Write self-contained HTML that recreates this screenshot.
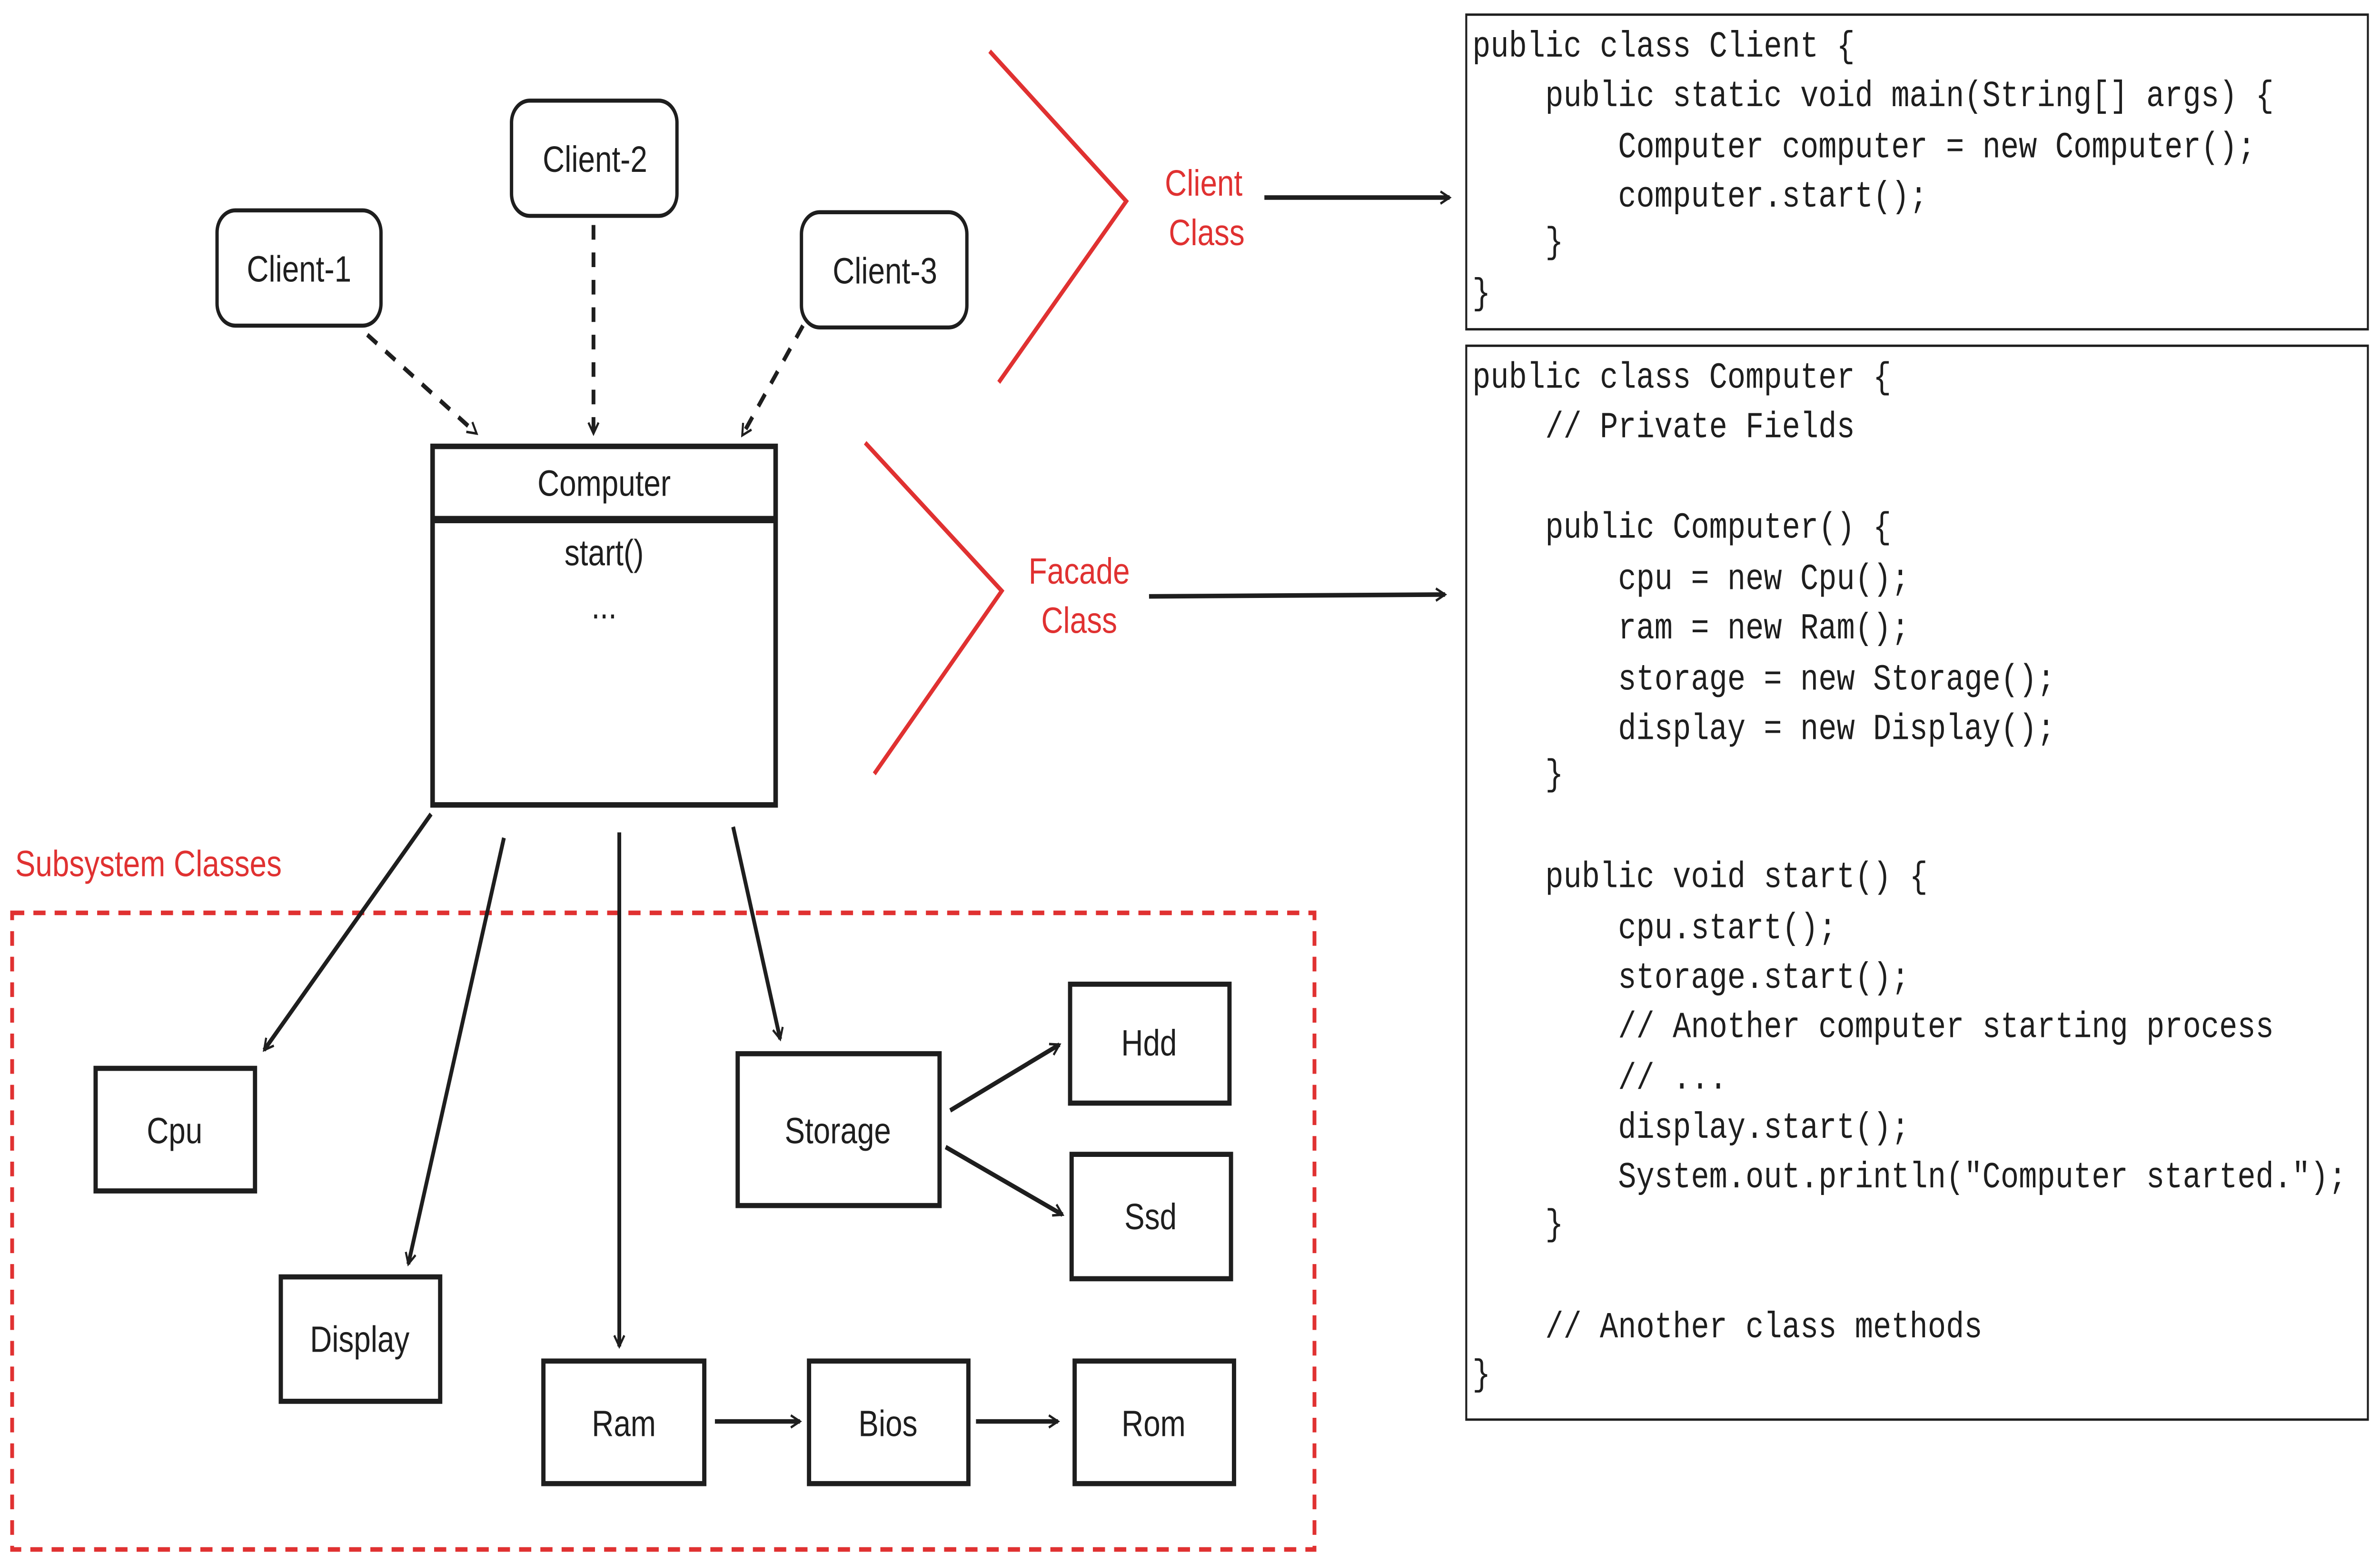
<!DOCTYPE html>
<html><head><meta charset="utf-8"><style>html,body{margin:0;padding:0;background:#fff;overflow:hidden}svg{display:block}.code text{white-space:pre}</style></head>
<body>
<svg width="5000" height="3283" xmlns="http://www.w3.org/2000/svg">
<defs>
<marker id="a" viewBox="0 0 12 12" refX="10" refY="6" markerWidth="8" markerHeight="8" markerUnits="userSpaceOnUse" orient="auto"><path d="M1 1 L10 6 L1 11" fill="none" stroke="#1e1e1e" stroke-width="2"/></marker>
</defs>
<g transform="scale(3.1888,3.8425)">
<g font-family="Liberation Sans, sans-serif" font-size="20" fill="#1e1e1e" text-anchor="middle">
<g fill="none" stroke="#1e1e1e" stroke-width="2.2">
<rect x="143" y="115" width="108" height="63" rx="12"/>
<rect x="337" y="55" width="109" height="63" rx="12"/>
<rect x="528" y="116" width="109" height="63" rx="12"/>
<rect x="285" y="244" width="226" height="196" stroke-width="3"/>
<line x1="285" y1="284" x2="511" y2="284" stroke-width="4"/>
<g stroke-dasharray="8 7" stroke-width="2.5" marker-end="url(#a)">
<line x1="242" y1="183" x2="314" y2="237"/>
<line x1="391" y1="123" x2="391" y2="237"/>
<line x1="529" y1="178" x2="489" y2="238"/>
</g>
<g stroke="#e03131" stroke-width="2.5">
<polyline points="652,28 742,110 658,209"/>
<polyline points="570,242 660,323 576,423"/>
<rect x="8" y="499" width="858" height="348" stroke-dasharray="8 6"/>
</g>
<g stroke-width="2.5" marker-end="url(#a)">
<line x1="833" y1="108" x2="955" y2="108"/>
<line x1="757" y1="326" x2="952" y2="325"/>
<line x1="284" y1="445" x2="174" y2="574"/>
<line x1="332" y1="458" x2="269" y2="691"/>
<line x1="408" y1="455" x2="408" y2="736"/>
<line x1="483" y1="452" x2="514" y2="568"/>
<line x1="626" y1="607" x2="698" y2="571"/>
<line x1="623" y1="627" x2="700" y2="664"/>
<line x1="471" y1="777" x2="527" y2="777"/>
<line x1="643" y1="777" x2="697" y2="777"/>
</g>
<g stroke-width="2.8">
<rect x="63" y="584" width="105" height="67"/>
<rect x="185" y="698" width="105" height="68"/>
<rect x="486" y="576" width="133" height="83"/>
<rect x="705" y="538" width="105" height="65"/>
<rect x="706" y="631" width="105" height="68"/>
<rect x="358" y="744" width="106" height="67"/>
<rect x="533" y="744" width="105" height="67"/>
<rect x="708" y="744" width="105" height="67"/>
</g>
<g stroke-width="1.3">
<rect x="966" y="8" width="594" height="172"/>
<rect x="966" y="189" width="594" height="587"/>
</g>
</g>
<text x="197" y="154">Client-1</text>
<text x="392" y="94">Client-2</text>
<text x="583" y="155">Client-3</text>
<text x="398" y="271">Computer</text>
<text x="398" y="309">start()</text>
<text x="398" y="338">...</text>
<text x="115" y="625">Cpu</text>
<text x="237" y="739">Display</text>
<text x="552" y="625">Storage</text>
<text x="757" y="577">Hdd</text>
<text x="758" y="672">Ssd</text>
<text x="411" y="785">Ram</text>
<text x="585" y="785">Bios</text>
<text x="760" y="785">Rom</text>
<g fill="#e03131">
<text x="793" y="107">Client</text>
<text x="795" y="134">Class</text>
<text x="711" y="319">Facade</text>
<text x="711" y="346">Class</text>
<text x="10" y="479" text-anchor="start">Subsystem Classes</text>
</g>
</g>
<g class="code" font-family="Liberation Mono, monospace" font-size="20" fill="#1e1e1e">
<text x="970" y="31">public class Client {</text>
<text x="1018" y="58">public static void main(String[] args) {</text>
<text x="1066" y="86">Computer computer = new Computer();</text>
<text x="1066" y="113">computer.start();</text>
<text x="1018" y="138">}</text>
<text x="970" y="166">}</text>
<text x="970" y="212">public class Computer {</text>
<text x="1018" y="239">// Private Fields</text>
<text x="1018" y="294">public Computer() {</text>
<text x="1066" y="322">cpu = new Cpu();</text>
<text x="1066" y="349">ram = new Ram();</text>
<text x="1066" y="377">storage = new Storage();</text>
<text x="1066" y="404">display = new Display();</text>
<text x="1018" y="429">}</text>
<text x="1018" y="485">public void start() {</text>
<text x="1066" y="513">cpu.start();</text>
<text x="1066" y="540">storage.start();</text>
<text x="1066" y="567">// Another computer starting process</text>
<text x="1066" y="595">// ...</text>
<text x="1066" y="622">display.start();</text>
<text x="1066" y="649">System.out.println("Computer started.");</text>
<text x="1018" y="675">}</text>
<text x="1018" y="731">// Another class methods</text>
<text x="970" y="757">}</text>
</g>
</g>
</svg>
</body></html>
